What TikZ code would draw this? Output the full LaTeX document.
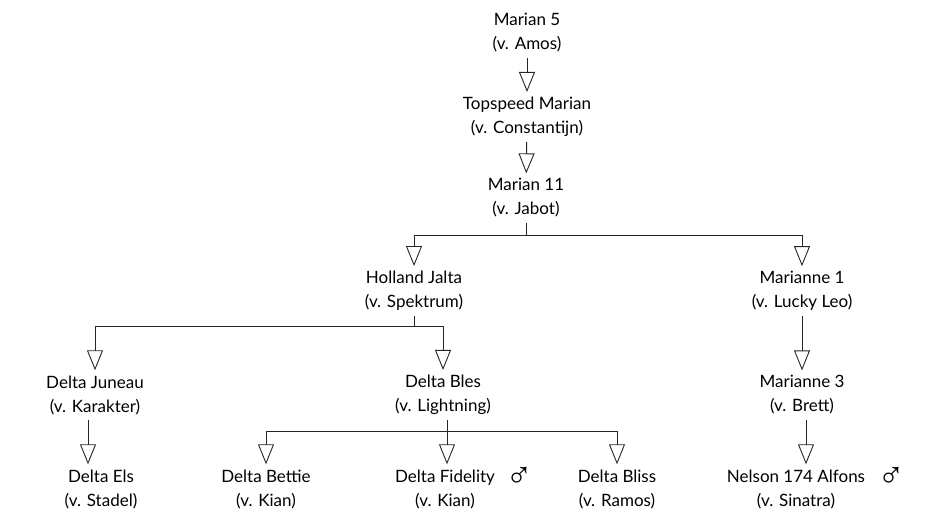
\documentclass[tikz,border=0pt]{standalone}
\usepackage{fontspec}
\setmainfont{Lato}
\newfontfamily\symf{Liberation Sans}
\usetikzlibrary{arrows.meta}
\begin{document}
\begin{tikzpicture}[x=1pt,y=-1pt,
  every node/.style={font=\fontsize{17}{24}\selectfont, align=center, inner xsep=2pt, inner ysep=5pt},
  conn/.style={line width=0.9pt, draw=black!85},
  arr/.style={conn, -{Triangle[open,length=20pt,width=16pt,line width=0.9pt]}},
  sym/.style={font=\symf\fontsize{36}{36}\selectfont, inner sep=0pt}]
\useasboundingbox (0,0) rectangle (931,515);
\node (m5)  at (527,33)  {Marian 5\\(v. Amos)};
\node (tm)  at (527,117) {Topspeed Marian\\(v. Constantijn)};
\node (m11) at (526,198) {Marian 11\\(v. Jabot)};
\node (hj)  at (414,291) {Holland Jalta\\(v. Spektrum)};
\node (m1)  at (802,291) {Marianne 1\\(v. Lucky Leo)};
\node (dj)  at (95,395)  {Delta Juneau\\(v. Karakter)};
\node (db)  at (443,395) {Delta Bles\\(v. Lightning)};
\node (m3)  at (802,395) {Marianne 3\\(v. Brett)};
\node (de)  at (101,489) {Delta Els\\(v. Stadel)};
\node (dbt) at (266,489) {Delta Bettie\\(v. Kian)};
\node (df)  at (445,489) {Delta Fidelity\\(v. Kian)};
\node (dbl) at (617,489) {Delta Bliss\\(v. Ramos)};
\node (ns)  at (796,489) {Nelson 174 Alfons\\(v. Sinatra)};
\node[sym] (male1) at (519,477) {♂};
\node[sym] (male2) at (891,477) {♂};
\draw[arr] (m5) -- (tm);
\draw[arr] (tm) -- (m11);
\draw[conn] (m11.south) -- ++(0,13) coordinate (j1);
\draw[arr] (j1) -| (hj.north);
\draw[arr] (j1) -| (m1.north);
\draw[conn] (hj.south) -- ++(0,11) coordinate (j2);
\draw[arr] (j2) -| (dj.north);
\draw[arr] (j2) -| (db.north);
\draw[arr] (m1) -- (m3);
\draw[arr] ([xshift=-7pt]dj.south) -- ([xshift=-7pt]dj.south |- de.north);
\draw[conn] ([xshift=4pt]db.south) -- ++(0,11) coordinate (j3);
\draw[arr] (j3) -| (dbt.north);
\draw[arr] (j3) -- (j3 |- df.north);
\draw[arr] (j3) -| (dbl.north);
\draw[arr] ([xshift=4pt]m3.south) -- ([xshift=4pt]m3.south |- ns.north);
\end{tikzpicture}
\end{document}
